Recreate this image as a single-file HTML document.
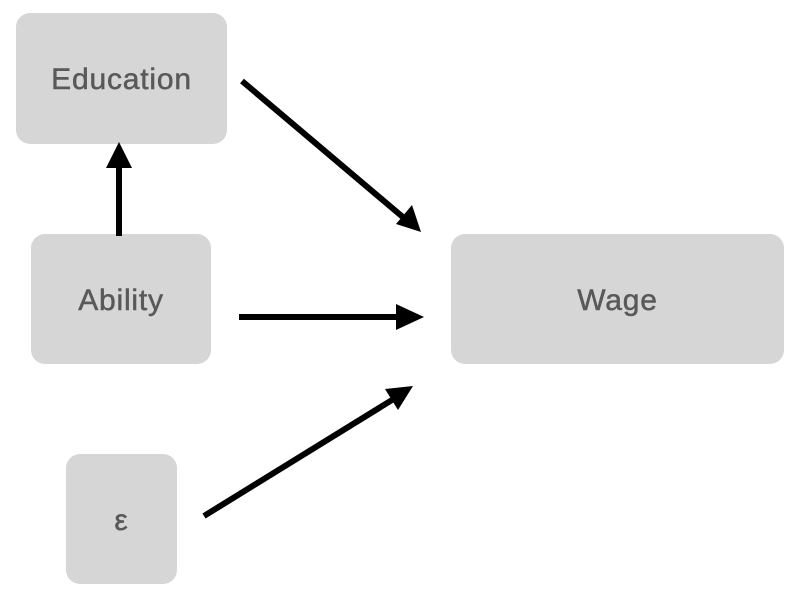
<!DOCTYPE html>
<html><head><style>
body{margin:0;width:812px;height:614px;background:#fff;overflow:hidden;position:relative;font-family:"Liberation Sans",sans-serif}
.b{position:absolute;background:#d6d6d6;border-radius:14px;color:#595959;font-size:30px;letter-spacing:0.8px;-webkit-text-stroke:0.5px #595959;display:flex;align-items:center;justify-content:center;box-sizing:border-box;padding-top:3px}
svg{position:absolute;left:0;top:0}
</style></head><body>
<div class="b" style="left:16px;top:13px;width:211px;height:131px">Education</div>
<div class="b" style="left:31px;top:234px;width:180px;height:130px">Ability</div>
<div class="b" style="left:451px;top:234px;width:333px;height:130px">Wage</div>
<div class="b" style="left:66px;top:454px;width:111px;height:130px">ε</div>
<svg width="812" height="614">
<g stroke="#000" stroke-width="6" fill="none">
<line x1="119" y1="236" x2="119" y2="165"/>
<line x1="242" y1="81" x2="404" y2="218"/>
<line x1="239" y1="317" x2="398" y2="317"/>
<line x1="204" y1="516" x2="392" y2="400"/>
</g>
<g fill="#000">
<polygon points="119,142 106,168 132,168"/>
<polygon points="421,232 396,224 412,205"/>
<polygon points="424,317 396,304 396,330"/>
<polygon points="413,386 398,410 385,389"/>
</g>
</svg>
</body></html>
